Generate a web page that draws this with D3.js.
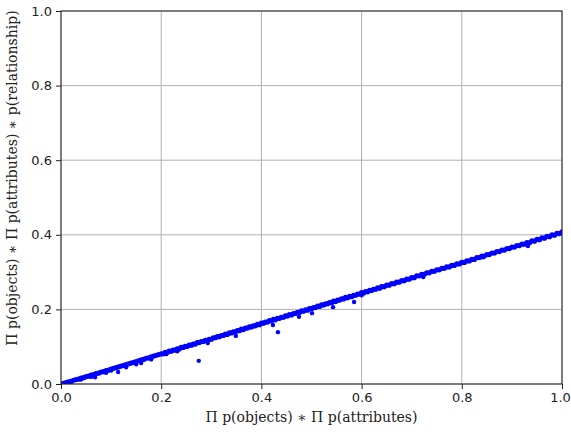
<!DOCTYPE html>
<html>
<head>
<meta charset="utf-8">
<script src="https://cdn.jsdelivr.net/npm/d3@7"></script>
<style>
  body { margin: 0; background: #fff; }
  text { font-family: "DejaVu Sans", sans-serif; }
</style>
</head>
<body>
<svg width="571" height="434"></svg>
<script>
// main band of points (x, y)
const bandX = [0.000,0.005,0.010,0.015,0.020,0.025,0.030,0.035,0.040,0.045,0.050,0.055,0.060,0.065,0.070,0.075,0.080,0.085,0.090,0.095,
  0.100,0.105,0.110,0.115,0.120,0.125,0.130,0.135,0.140,0.145,0.150,0.155,0.160,0.165,0.170,0.175,0.180,0.185,0.190,0.195,
  0.200,0.208,0.216,0.224,0.232,0.240,0.248,0.256,0.264,0.272,0.280,0.288,0.296,0.304,0.312,0.320,0.328,0.336,0.344,0.352,
  0.360,0.368,0.376,0.384,0.392,0.400,0.408,0.416,0.424,0.432,0.440,0.448,0.456,0.464,0.472,0.480,0.488,0.496,0.504,0.512,
  0.520,0.528,0.536,0.544,0.552,0.560,0.568,0.576,0.584,0.592,0.600,0.608,0.616,0.624,0.632,0.640,0.650,0.660,0.670,0.680,
  0.690,0.700,0.710,0.720,0.730,0.740,0.750,0.760,0.770,0.780,0.790,0.800,0.810,0.820,0.830,0.840,0.850,0.860,0.870,0.880,
  0.890,0.900,0.910,0.920,0.930,0.940,0.950,0.960,0.970,0.980,0.990,1.000];
const bandY = [0.000,0.002,0.004,0.006,0.007,0.010,0.012,0.013,0.016,0.017,0.020,0.021,0.024,0.025,0.028,0.029,0.032,0.033,0.036,0.037,
  0.040,0.042,0.044,0.046,0.048,0.050,0.052,0.054,0.056,0.058,0.060,0.062,0.065,0.066,0.069,0.070,0.073,0.075,0.077,0.079,
  0.081,0.085,0.088,0.091,0.094,0.098,0.101,0.104,0.107,0.111,0.114,0.117,0.120,0.124,0.127,0.130,0.134,0.137,0.140,0.143,
  0.147,0.150,0.153,0.156,0.160,0.163,0.166,0.170,0.173,0.176,0.179,0.183,0.186,0.189,0.192,0.196,0.199,0.202,0.205,0.209,
  0.212,0.215,0.218,0.222,0.225,0.228,0.232,0.235,0.238,0.241,0.245,0.248,0.251,0.254,0.258,0.261,0.265,0.269,0.273,0.277,
  0.281,0.285,0.290,0.294,0.298,0.302,0.306,0.310,0.314,0.318,0.322,0.326,0.330,0.334,0.339,0.343,0.347,0.351,0.355,0.359,
  0.363,0.367,0.371,0.375,0.379,0.384,0.388,0.392,0.396,0.400,0.404,0.408];

// second row of points, between the first ones and slightly lower
const band2X = [0.204,0.212,0.220,0.228,0.236,0.244,0.252,0.260,0.268,0.276,0.284,0.292,0.300,0.308,0.316,0.324,0.332,0.340,0.348,0.356,
  0.364,0.372,0.380,0.388,0.396,0.404,0.412,0.420,0.428,0.436,0.444,0.452,0.460,0.468,0.476,0.484,0.492,0.500,0.508,0.516,
  0.524,0.532,0.540,0.548,0.556,0.564,0.572,0.580,0.588,0.596,0.604,0.612,0.620,0.628,0.636,0.645,0.655,0.665,0.675,0.685,
  0.695,0.705,0.715,0.725,0.735,0.745,0.755,0.765,0.775,0.785,0.795,0.805,0.815,0.825,0.835,0.845,0.855,0.865,0.875,0.885,
  0.895,0.905,0.915,0.925,0.935,0.945,0.955,0.965,0.975,0.985,0.995];
const band2Y = [0.081,0.085,0.088,0.091,0.094,0.098,0.101,0.104,0.107,0.111,0.114,0.117,0.120,0.124,0.127,0.130,0.133,0.137,0.140,0.143,
  0.146,0.150,0.153,0.156,0.159,0.163,0.166,0.169,0.172,0.176,0.179,0.182,0.185,0.189,0.192,0.195,0.198,0.202,0.205,0.208,
  0.212,0.215,0.218,0.221,0.225,0.228,0.231,0.234,0.238,0.241,0.244,0.247,0.251,0.254,0.257,0.261,0.265,0.269,0.273,0.277,
  0.281,0.285,0.290,0.294,0.298,0.302,0.306,0.310,0.314,0.318,0.322,0.326,0.330,0.334,0.339,0.343,0.347,0.351,0.355,0.359,
  0.363,0.367,0.371,0.375,0.379,0.383,0.387,0.391,0.395,0.399,0.403];

// points a little below the band, and the outliers
const lowX = [0.020,0.040,0.060,0.068,0.090,0.100,0.114,0.130,0.150,0.160,0.180,0.210,0.232,0.293,0.349,0.423,0.475,0.501,0.543,0.585,0.600,0.723,0.842,0.932,0.275,0.433];
const lowY = [0.004,0.012,0.019,0.018,0.030,0.036,0.032,0.045,0.053,0.056,0.066,0.080,0.088,0.110,0.129,0.158,0.180,0.190,0.206,0.220,0.238,0.287,0.340,0.370,0.062,0.139];

const ticks = [0, 0.2, 0.4, 0.6, 0.8, 1.0];

const svg = d3.select("svg");
const margin = {top: 11, right: 9, bottom: 50, left: 61};
const w = +svg.attr("width") - margin.left - margin.right;
const h = +svg.attr("height") - margin.top - margin.bottom;

const x = d3.scaleLinear().domain([0, 1]).range([0, w]);
const y = d3.scaleLinear().domain([0, 1]).range([h, 0]);

const g = svg.append("g").attr("transform", `translate(${margin.left},${margin.top})`);

// grid
g.append("g").selectAll("line").data(ticks).join("line")
  .attr("x1", d => x(d)).attr("x2", d => x(d)).attr("y1", 0).attr("y2", h)
  .attr("stroke", "#b0b0b0").attr("stroke-width", 1);
g.append("g").selectAll("line").data(ticks).join("line")
  .attr("y1", d => y(d)).attr("y2", d => y(d)).attr("x1", 0).attr("x2", w)
  .attr("stroke", "#b0b0b0").attr("stroke-width", 1);

// points
svg.append("defs").append("clipPath").attr("id", "clip")
  .append("rect").attr("width", w).attr("height", h);
const pts = g.append("g").attr("clip-path", "url(#clip)");
pts.selectAll("circle.band").data(d3.zip(bandX, bandY)).join("circle")
  .attr("class", "band")
  .attr("cx", d => x(d[0])).attr("cy", d => y(d[1])).attr("r", 2.6)
  .attr("fill", "#0000ff");
pts.selectAll("circle.band2").data(d3.zip(band2X, band2Y)).join("circle")
  .attr("class", "band2")
  .attr("cx", d => x(d[0])).attr("cy", d => y(d[1])).attr("r", 2.6)
  .attr("fill", "#0000ff");
pts.selectAll("circle.low").data(d3.zip(lowX, lowY)).join("circle")
  .attr("class", "low")
  .attr("cx", d => x(d[0])).attr("cy", d => y(d[1])).attr("r", 2.2)
  .attr("fill", "#0000ff");

// axes
const fmt = d3.format(".1f");
const xAxis = g.append("g").attr("transform", `translate(0,${h})`)
  .call(d3.axisBottom(x).tickValues(ticks).tickFormat(fmt).tickSize(5).tickPadding(4));
const yAxis = g.append("g")
  .call(d3.axisLeft(y).tickValues(ticks).tickFormat(fmt).tickSize(5).tickPadding(4));
[xAxis, yAxis].forEach(a => {
  a.select(".domain").remove();
  a.selectAll("text").attr("font-size", 13).attr("fill", "#222")
    .attr("font-family", "DejaVu Sans, sans-serif");
  a.selectAll("line").attr("stroke", "#222");
});
xAxis.selectAll(".tick text").filter(d => d === 1).attr("dx", -2);

// frame
g.append("rect").attr("width", w).attr("height", h)
  .attr("fill", "none").attr("stroke", "#222").attr("stroke-width", 1);

// labels
svg.append("text")
  .attr("x", margin.left + w / 2).attr("y", 422)
  .attr("text-anchor", "middle")
  .style("font-family", "'DejaVu Serif', serif").attr("font-size", 14).attr("fill", "#222")
  .text("Π p(objects) ∗ Π p(attributes)");
svg.append("text")
  .attr("transform", "translate(17,178) rotate(-90)")
  .attr("text-anchor", "middle")
  .style("font-family", "'DejaVu Serif', serif").attr("font-size", 14).attr("fill", "#222")
  .text("Π p(objects) ∗ Π p(attributes) ∗ p(relationship)");
</script>
</body>
</html>
